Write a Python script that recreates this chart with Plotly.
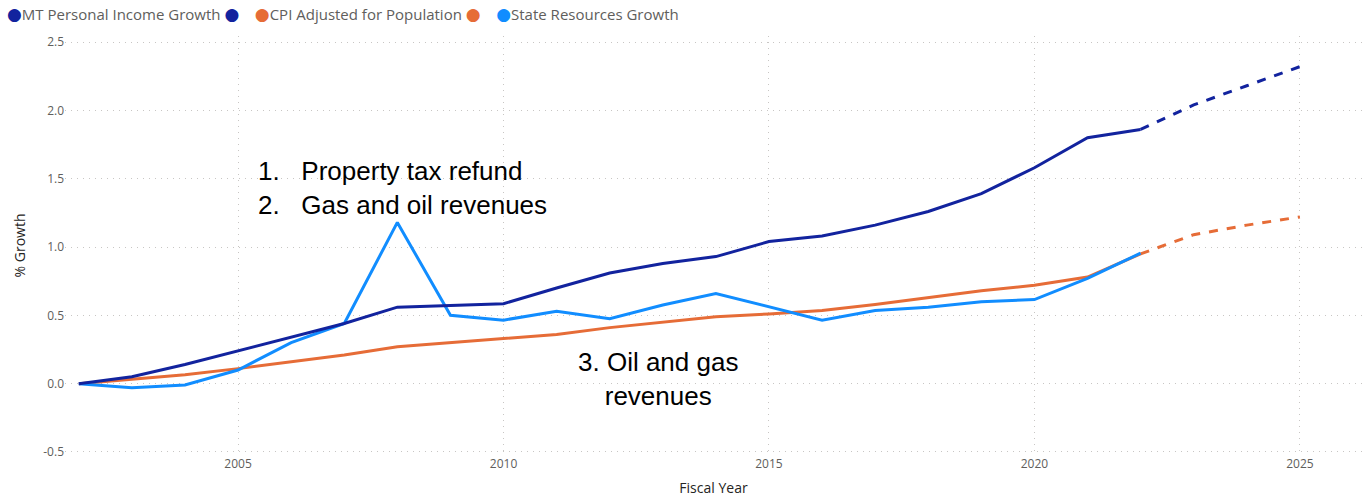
import plotly.graph_objects as go

years = list(range(2002, 2023))
proj_years = [2022, 2023, 2024, 2025]

income = [0.0, 0.05, 0.14, 0.24, 0.34, 0.44, 0.56, 0.575, 0.585, 0.70, 0.81,
          0.88, 0.93, 1.04, 1.08, 1.16, 1.26, 1.39, 1.58, 1.80, 1.86]
income_proj = [1.86, 2.04, 2.18, 2.32]

cpi = [0.0, 0.03, 0.065, 0.11, 0.16, 0.21, 0.27, 0.30, 0.325, 0.36, 0.41,
       0.45, 0.49, 0.51, 0.535, 0.58, 0.63, 0.68, 0.72, 0.78, 0.95]
cpi_proj = [0.95, 1.09, 1.16, 1.22]

resources = [0.0, -0.03, -0.01, 0.10, 0.30, 0.44, 1.18, 0.50, 0.465, 0.53, 0.475,
             0.575, 0.66, 0.56, 0.465, 0.535, 0.56, 0.60, 0.615, 0.77, 0.955]

legend_names = ["MT Personal Income Growth", "CPI Adjusted for Population", "State Resources Growth"]

DARK = "#12239E"
ORANGE = "#E66C37"
LIGHT = "#118DFF"

fig = go.Figure()
fig.add_trace(go.Scatter(x=years, y=cpi, mode="lines", line=dict(color=ORANGE, width=3), showlegend=False))
fig.add_trace(go.Scatter(x=proj_years, y=cpi_proj, mode="lines", line=dict(color=ORANGE, width=3, dash="dash"), showlegend=False))
fig.add_trace(go.Scatter(x=years, y=resources, mode="lines", line=dict(color=LIGHT, width=3), showlegend=False))
fig.add_trace(go.Scatter(x=years, y=income, mode="lines", line=dict(color=DARK, width=3), showlegend=False))
fig.add_trace(go.Scatter(x=proj_years, y=income_proj, mode="lines", line=dict(color=DARK, width=3, dash="dash"), showlegend=False))

def dot(c):
    return f"<span style='color:{c};font-size:17px;font-family:DejaVu Sans'>\u25CF</span>"

nb = "\u00a0"
legend_text = (dot(DARK) + legend_names[0] + nb + dot(DARK) + nb * 4 +
               dot(ORANGE) + legend_names[1] + nb + dot(ORANGE) + nb * 4 +
               dot(LIGHT) + legend_names[2])
fig.add_annotation(x=(5 - 65) / 1297, y=(455 - 14) / 419, xref="paper", yref="paper",
                   xanchor="left", yanchor="middle", text=legend_text, showarrow=False,
                   font=dict(family="Open Sans, sans-serif", size=15, color="#605E5C"))

fig.add_annotation(x=2005.33, y=1.43, xref="x", yref="y", xanchor="left", yanchor="middle",
                   text="1.\u00a0\u00a0\u00a0Property tax refund<br>2.\u00a0\u00a0\u00a0Gas and oil revenues",
                   showarrow=False, align="left",
                   font=dict(family="Liberation Sans, Arial", size=26, color="#000000"))
fig.add_annotation(x=2012.91, y=0.037, xref="x", yref="y", xanchor="center", yanchor="middle",
                   text="3. Oil and gas<br>revenues", showarrow=False, align="center",
                   font=dict(family="Liberation Sans, Arial", size=26, color="#000000"))

GRID = "#C8C6C4"
fig.update_layout(
    width=1368, height=501,
    margin=dict(l=65, r=6, t=36, b=46),
    paper_bgcolor="white", plot_bgcolor="white",
    font=dict(family="Open Sans, sans-serif", color="#605E5C", size=12),
    showlegend=False,
    xaxis=dict(range=[2001.74, 2026.17], tickvals=[2005, 2010, 2015, 2020, 2025],
               showgrid=True, gridcolor=GRID, griddash="1px,5px", gridwidth=1,
               zeroline=False, showline=False, ticks="",
               title=dict(text="Fiscal Year", font=dict(size=14, color="#252423"), standoff=12),
               tickfont=dict(size=12, color="#605E5C")),
    yaxis=dict(range=[-0.522, 2.544], tickvals=[-0.5, 0, 0.5, 1.0, 1.5, 2.0, 2.5],
               ticktext=["-0.5", "0.0", "0.5", "1.0", "1.5", "2.0", "2.5"],
               showgrid=True, gridcolor=GRID, griddash="1px,5px", gridwidth=1,
               zeroline=False, showline=False, ticks="",
               title=dict(text="% Growth", font=dict(size=14, color="#252423"), standoff=14),
               tickfont=dict(size=12, color="#605E5C")),
)

fig.write_html("out.html")
